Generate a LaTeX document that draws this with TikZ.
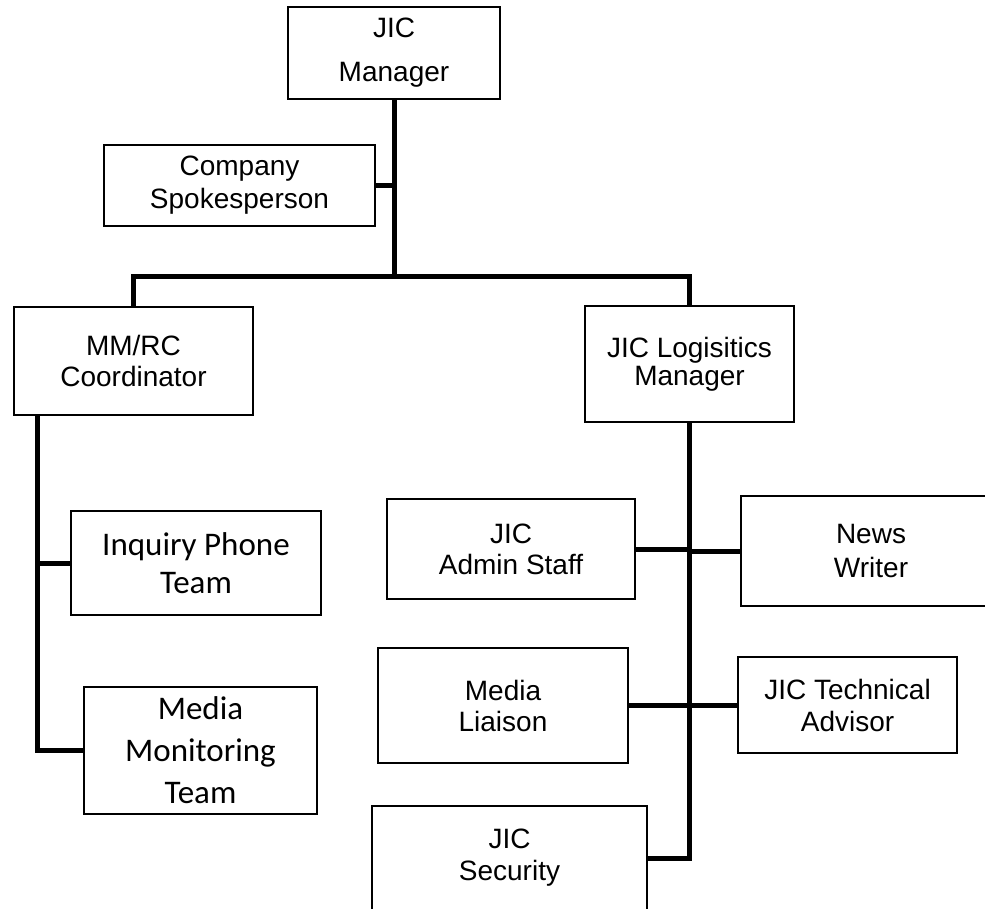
\documentclass[tikz,border=0pt]{standalone}
\usepackage{fontspec}
\setmainfont{Liberation Sans}
\newfontfamily\calibrifont{Carlito}
\begin{document}
\begin{tikzpicture}[x=0.5pt,y=-0.5pt,
  every node/.style={inner sep=0pt, outer sep=0pt},
  orgbox/.style={draw=black, line width=0.6pt, fill=white, align=center,
    font=\fontsize{14}{16}\selectfont,
    execute at begin node={\rule{0pt}{13pt}}},
  widebox/.style={orgbox, font=\calibrifont\fontsize{16.5}{20}\selectfont,
    execute at begin node={\rule{0pt}{15pt}}},
  link/.style={line width=2.5pt, line join=miter}]
% page frame
\useasboundingbox[fill=white] (0,0) rectangle (985,909);

% top of the chart
\node[orgbox, minimum width=106pt, minimum height=46pt,
  font=\fontsize{14}{22}\selectfont,
  execute at begin node={\rule{0pt}{15pt}}] (mgr) at (394,53) {JIC\\Manager};
\node[orgbox, minimum width=135.5pt, minimum height=40.5pt,
  font=\fontsize{14}{16.5}\selectfont] (spk) at (239.5,185.5) {Company\\Spokesperson};
\coordinate (bus) at (394,277);

% second level
\node[orgbox, minimum width=119.5pt, minimum height=54pt,
  font=\fontsize{14}{15.5}\selectfont] (mmrc) at (133.5,361) {MM/RC\\Coordinator};
\node[orgbox, minimum width=104.5pt, minimum height=58pt,
  font=\fontsize{14}{14}\selectfont] (log) at (689.5,364) {JIC Logisitics\\Manager};

% MM/RC branch
\coordinate (ltrunk) at (37,415);
\node[widebox, minimum width=125pt, minimum height=52pt,
  font=\calibrifont\fontsize{16.5}{19}\selectfont] (inq) at (196,563) {Inquiry Phone\\Team};
\node[widebox, minimum width=116.5pt, minimum height=63.5pt,
  font=\calibrifont\fontsize{16.5}{21}\selectfont] (mmt) at (200.5,750.5) {Media\\Monitoring\\Team};

% logistics branch
\node[orgbox, minimum width=124pt, minimum height=50pt,
  font=\fontsize{14}{15.5}\selectfont] (adm) at (511,549) {JIC\\Admin Staff};
\node[orgbox, minimum width=130pt, minimum height=55pt,
  font=\fontsize{14}{17}\selectfont] (news) at (871,551) {News\\Writer};
\node[orgbox, minimum width=125pt, minimum height=57.5pt,
  font=\fontsize{14}{15.5}\selectfont] (lia) at (503,705.5) {Media\\Liaison};
\node[orgbox, minimum width=109.5pt, minimum height=48pt,
  font=\fontsize{14}{16}\selectfont] (tech) at (847.5,705) {JIC Technical\\Advisor};
\node[orgbox, minimum width=137.5pt, minimum height=52pt,
  font=\fontsize{14}{16}\selectfont] (sec) at (509.5,858) {JIC\\Security};

% connectors
\draw[link] (mgr.south) -- (bus);
\draw[link] (spk.east) -- (spk.east -| mgr.south);
\draw[link] (mmrc.north) -- (mmrc.north |- bus) -- (log.north |- bus) -- (log.north);
\draw[link] (ltrunk) |- (mmt.west);
\draw[link] (inq.west) -- (inq.west -| ltrunk);
\draw[link] (log.south) |- (sec.east);
\draw[link] (adm.east) -- (adm.east -| log.south);
\draw[link] (news.west) -- (news.west -| log.south);
\draw[link] (lia.east) -- (lia.east -| log.south);
\draw[link] (tech.west) -- (tech.west -| log.south);
\end{tikzpicture}
\end{document}
